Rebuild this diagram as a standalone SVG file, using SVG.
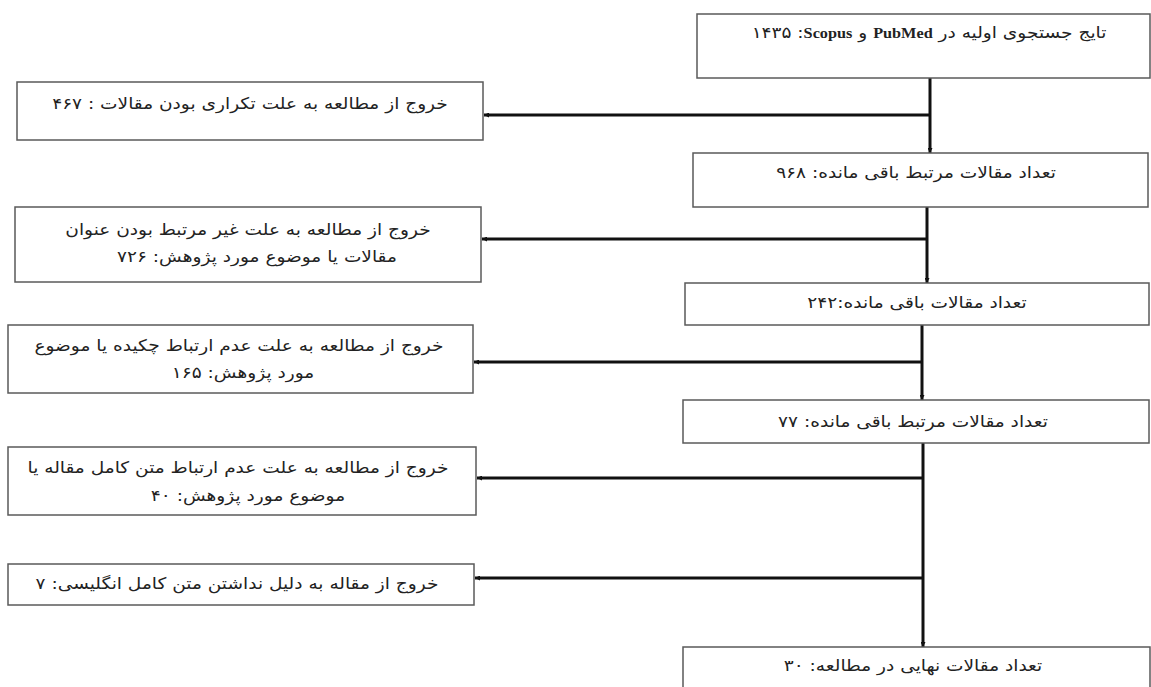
<svg xmlns="http://www.w3.org/2000/svg" width="1151" height="687" viewBox="0 0 1151 687">
<style>
.box{fill:#fff;stroke:#5a5a5a;stroke-width:1.5}
.t{font-family:"DejaVu Sans","Noto Sans",sans-serif;font-size:16px;fill:#222;text-anchor:middle;direction:rtl}
.tl{font-family:"DejaVu Sans","Noto Sans",sans-serif;font-size:16px;fill:#222;text-anchor:middle;direction:ltr}
.lat{font-family:"Liberation Serif",serif;font-weight:bold;font-size:14px}
.c{stroke:#111;stroke-width:3;fill:none}
</style>
<defs>
<marker id="ah" viewBox="0 0 6 6" refX="6" refY="3" markerWidth="5" markerHeight="5" markerUnits="userSpaceOnUse" orient="auto">
<path d="M0,0 L6,3 L0,6 z" fill="#111"/>
</marker>
</defs>
<rect width="1151" height="687" fill="#fff"/>
<g id="connectors">
<line class="c" x1="930" y1="78" x2="930" y2="153" marker-end="url(#ah)"/>
<line class="c" x1="930" y1="115" x2="484" y2="115" marker-end="url(#ah)"/>
<line class="c" x1="927" y1="207" x2="927" y2="283" marker-end="url(#ah)"/>
<line class="c" x1="927" y1="239" x2="482" y2="239" marker-end="url(#ah)"/>
<line class="c" x1="922" y1="325" x2="922" y2="400" marker-end="url(#ah)"/>
<line class="c" x1="922" y1="362" x2="474" y2="362" marker-end="url(#ah)"/>
<line class="c" x1="923" y1="443" x2="923" y2="647" marker-end="url(#ah)"/>
<line class="c" x1="923" y1="478" x2="477" y2="478" marker-end="url(#ah)"/>
<line class="c" x1="923" y1="578" x2="475" y2="578" marker-end="url(#ah)"/>
</g>
<g id="n1">
<rect class="box" x="697" y="14" width="453" height="64"/>
<text class="tl" transform="translate(929 38) scale(1.16 1)">۱۴۳۵ :<tspan class="lat">Scopus</tspan> و <tspan class="lat">PubMed</tspan> تایج جستجوی اولیه در</text>
</g>
<g id="n2">
<rect class="box" x="693" y="153" width="455" height="54"/>
<text class="t" transform="translate(916 178) scale(1.16 1)">تعداد مقالات مرتبط باقی مانده: ۹۶۸</text>
</g>
<g id="n3">
<rect class="box" x="685" y="283" width="464" height="42"/>
<text class="t" transform="translate(917 308) scale(1.16 1)">تعداد مقالات باقی مانده:۲۴۲</text>
</g>
<g id="n4">
<rect class="box" x="683" y="400" width="466" height="43"/>
<text class="t" transform="translate(913 427) scale(1.16 1)">تعداد مقالات مرتبط باقی مانده: ۷۷</text>
</g>
<g id="n5">
<rect class="box" x="683" y="647" width="467" height="60"/>
<text class="t" transform="translate(913 671) scale(1.16 1)">تعداد مقالات نهایی در مطالعه: ۳۰</text>
</g>
<g id="e1">
<rect class="box" x="17" y="82" width="466" height="58"/>
<text class="t" transform="translate(250 109) scale(1.16 1)">خروج از مطالعه به علت تکراری بودن مقالات : ۴۶۷</text>
</g>
<g id="e2">
<rect class="box" x="15" y="207" width="466" height="75"/>
<text class="t" transform="translate(248 235) scale(1.16 1)">خروج از مطالعه به علت غیر مرتبط بودن عنوان</text>
<text class="t" transform="translate(257 262) scale(1.16 1)">مقالات یا موضوع مورد پژوهش: ۷۲۶</text>
</g>
<g id="e3">
<rect class="box" x="8" y="325" width="465" height="68"/>
<text class="t" transform="translate(239 351) scale(1.16 1)">خروج از مطالعه به علت عدم ارتباط چکیده یا موضوع</text>
<text class="t" transform="translate(243 378) scale(1.16 1)">مورد پژوهش: ۱۶۵</text>
</g>
<g id="e4">
<rect class="box" x="8" y="447" width="468" height="68"/>
<text class="t" transform="translate(238 473) scale(1.16 1)">خروج از مطالعه به علت عدم ارتباط متن کامل مقاله یا</text>
<text class="t" transform="translate(248 501) scale(1.16 1)">موضوع مورد پژوهش: ۴۰</text>
</g>
<g id="e5">
<rect class="box" x="8" y="564" width="466" height="41"/>
<text class="t" transform="translate(237 589) scale(1.16 1)">خروج از مقاله به دلیل نداشتن متن کامل انگلیسی: ۷</text>
</g>
</svg>
